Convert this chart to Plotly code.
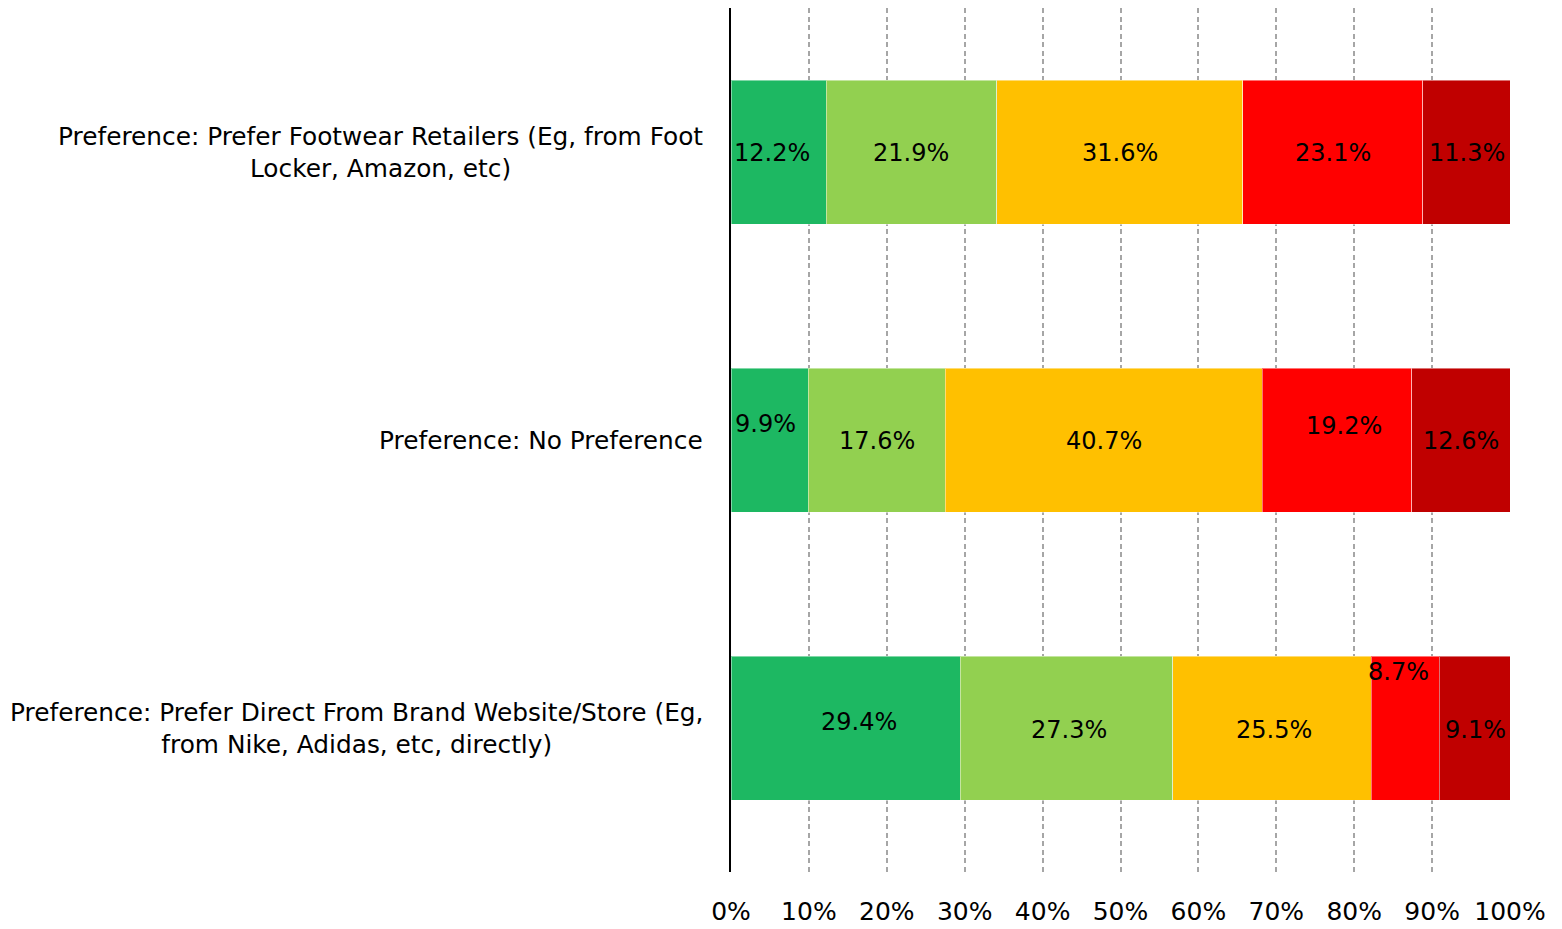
import plotly.graph_objects as go

categories = [
    "Preference: Prefer Footwear Retailers (Eg, from Foot<br>Locker, Amazon, etc)",
    "Preference: No Preference",
    "Preference: Prefer Direct From Brand Website/Store (Eg,<br>from Nike, Adidas, etc, directly)",
]
series_names = ["Very likely", "Likely", "Neutral", "Unlikely", "Very unlikely"]
series_values = [
    [12.2, 9.9, 29.4],
    [21.9, 17.6, 27.3],
    [31.6, 40.7, 25.5],
    [23.1, 19.2, 8.7],
    [11.3, 12.6, 9.1],
]
tick_values = [0, 10, 20, 30, 40, 50, 60, 70, 80, 90, 100]
tick_labels = ["0%", "10%", "20%", "30%", "40%", "50%", "60%", "70%", "80%", "90%", "100%"]

colors = ["#1DB862", "#92D050", "#FFC000", "#FF0000", "#C00000"]
# per-label pixel nudges (x, y) mimicking the manually moved labels
label_xshift = [[-7, -4, 13], [0, 0, 3], [0, 0, 2], [0, 7, -7], [0, 0, 1]]
label_yshift = [[-1, 16, 6], [-1, -1, -2], [-1, -1, -2], [-1, 14, 56], [-1, -1, -2]]

FONT = "DejaVu Sans"
fig = go.Figure()
for name, vals, col in zip(series_names, series_values, colors):
    fig.add_trace(go.Bar(
        y=list(range(len(categories))), x=vals, name=name, orientation="h",
        marker=dict(color=col, line=dict(color="rgba(255,255,255,0.45)", width=1)),
        width=0.5, hoverinfo="x+name",
    ))

annotations = []
for ci in range(len(categories)):
    cum = 0.0
    for si, vals in enumerate(series_values):
        v = vals[ci]
        annotations.append(dict(
            x=cum + v / 2, y=ci, xref="x", yref="y", text=f"{v:.1f}%",
            showarrow=False, font=dict(family=FONT, size=24, color="black"),
            xshift=label_xshift[si][ci], yshift=label_yshift[si][ci],
        ))
        cum += v
    annotations.append(dict(
        x=0, y=ci, xref="paper", yref="y", text=categories[ci], showarrow=False,
        xanchor="right", align="center", xshift=-26,
        font=dict(family=FONT, size=24.8, color="black"),
    ))

fig.update_layout(
    barmode="stack", showlegend=False, width=1546, height=921,
    margin=dict(l=723, r=44, t=0, b=57),
    plot_bgcolor="white", paper_bgcolor="white",
    font=dict(family=FONT, size=24, color="black"),
    annotations=annotations,
    xaxis=dict(range=[0, 100], tickvals=tick_values, ticktext=tick_labels,
               showgrid=True, gridcolor="#A6A6A6", griddash="5px,3.5px", gridwidth=2,
               zeroline=False, showline=False, ticks="", ticklabelstandoff=22,
               automargin=False, tickfont=dict(family=FONT, size=25)),
    yaxis=dict(range=[2.5, -0.5], showticklabels=False, showgrid=False, automargin=False,
               zeroline=False, showline=True, linecolor="black", linewidth=2, ticks=""),
)
fig.write_html("out.html")
